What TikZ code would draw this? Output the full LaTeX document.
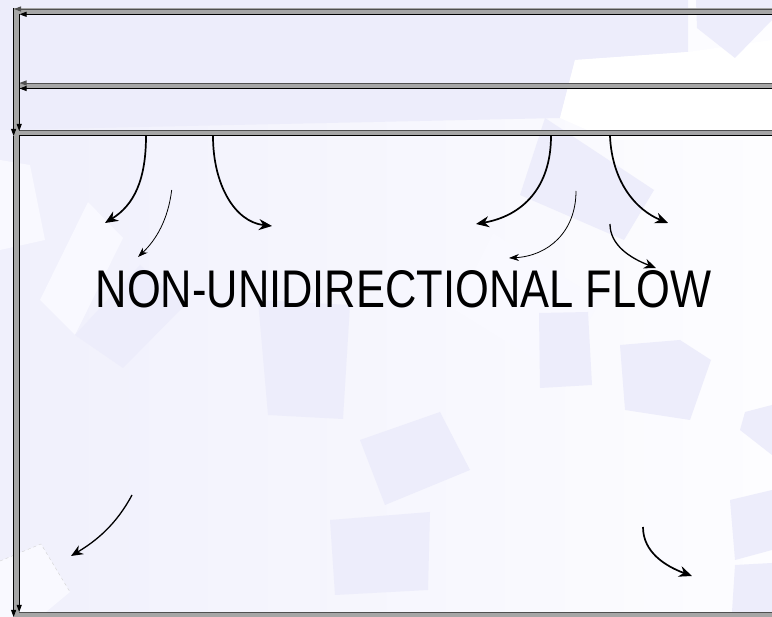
\documentclass[tikz,border=0pt]{standalone}
\usepackage{fontspec}
\setmainfont{Liberation Sans}
\usetikzlibrary{arrows.meta}
\definecolor{bgl}{RGB}{240,240,252}
\definecolor{bgr}{RGB}{253,253,255}
\definecolor{lav}{RGB}{237,237,251}
\definecolor{wht}{RGB}{249,249,255}
\definecolor{barg}{RGB}{166,166,166}
\definecolor{bare}{RGB}{80,80,80}
\tikzset{
  % gray duct bar
  bar/.style={fill=barg, draw=none},
  edge/.style={draw=black, line width=0.9pt, -{Triangle[length=7pt,width=5pt]}},
  edgeg/.style={draw=bare, line width=0.9pt, -{Triangle[length=7pt,width=5pt]}},
  % air flow arrows
  flow/.style={draw=black, line width=1.7pt, -{Stealth[length=13pt,width=11pt]}},
  flowm/.style={draw=black, line width=1.3pt, -{Stealth[length=12pt,width=10pt]}},
  flowt/.style={draw=black, line width=0.8pt, -{Stealth[length=10pt,width=7pt]}},
  patch/.style={fill=lav, draw=none},
  wpatch/.style={fill=wht, draw=none},
  title/.style={font=\fontsize{53}{53}\selectfont, xscale=0.82, inner sep=0pt}
}
\begin{document}
\begin{tikzpicture}[x=1pt, y=-1pt]
  \useasboundingbox (0,0) rectangle (772,617);
  % background
  \shade[left color=bgl, right color=bgr] (0,0) rectangle (772,617);
  \fill[patch] (0,0) -- (688,0) -- (688,52) -- (575,60) -- (560,118) -- (0,130) -- cycle;
  \fill[white] (575,60) -- (688,52) -- (772,40) -- (772,140) -- (610,140) -- (560,118) -- cycle;
  \fill[patch] (696,0) -- (772,0) -- (772,20) -- (735,58) -- (697,28) -- cycle;
  \fill[wpatch] (0,160) -- (30,165) -- (45,240) -- (0,250) -- cycle;
  \fill[wpatch] (88,202) -- (123,238) -- (75,335) -- (40,300) -- cycle;
  \fill[patch] (75,335) -- (123,368) -- (185,305) -- (140,265) -- cycle;
  \fill[patch] (258,300) -- (350,305) -- (343,419) -- (268,415) -- cycle;
  \fill[patch] (545,118) -- (654,190) -- (624,240) -- (520,195) -- cycle;
  \fill[wpatch] (493,233) -- (600,300) -- (560,375) -- (455,310) -- cycle;
  \fill[patch] (539,313) -- (588,312) -- (592,385) -- (540,388) -- cycle;
  \fill[patch] (360,440) -- (440,412) -- (470,470) -- (385,505) -- cycle;
  \fill[patch] (330,520) -- (430,512) -- (428,590) -- (335,595) -- cycle;
  \fill[patch] (620,345) -- (680,340) -- (711,360) -- (690,420) -- (625,410) -- cycle;
  \fill[patch] (745,412) -- (772,405) -- (772,455) -- (740,430) -- cycle;
  \fill[patch] (730,500) -- (772,490) -- (772,550) -- (735,560) -- cycle;
  \fill[patch] (735,565) -- (772,563) -- (772,617) -- (732,612) -- cycle;
  \fill[wpatch] (0,561) -- (41,544) -- (70,592) -- (40,617) -- (0,617) -- cycle;
  \draw[draw=gray!35, dashed, line width=0.4pt] (0,561) -- (41,544) -- (70,592);
  % horizontal bars
  \fill[bar] (14,8.5) rectangle (772,14.5);
  \fill[bar] (14,82.7) rectangle (772,88.7);
  \fill[bar] (14,130) rectangle (772,136);
  \fill[bar] (14,612) rectangle (772,617);
  % vertical bar
  \fill[bar] (13.5,8) rectangle (19.3,617);
  \draw[edgeg] (772,9) -- (14,9);
  \draw[edge] (772,14.3) -- (19.5,14.3);
  \draw[edgeg] (772,83) -- (19.5,83);
  \draw[edge] (772,88.5) -- (19.5,88.5);
  \draw[line width=0.9pt, draw=bare] (19,130.5) -- (772,130.5);
  \draw[line width=0.9pt] (19,135.7) -- (772,135.7);
  \draw[line width=0.6pt, draw=bare] (19,612.3) -- (772,612.3);
  \draw[edge] (13.6,8) -- (13.6,136);
  \draw[edge] (19.2,14) -- (19.2,131);
  \draw[edge] (13.6,136) -- (13.6,617);
  \draw[edge] (19.2,136) -- (19.2,612);
  % flow arrows
  \draw[flow] (146,136) .. controls (146,180) and (134,205) .. (105,223);
  \draw[flowt] (171.7,190) .. controls (168,220) and (156,240) .. (138,257);
  \draw[flow] (213,136) .. controls (213,185) and (235,222) .. (272,226);
  \draw[flow] (551,136) .. controls (551,188) and (522,216) .. (476,224);
  \draw[flowt] (576,191) .. controls (576,232) and (548,256) .. (509,258);
  \draw[flow] (610,136) .. controls (612,182) and (636,210) .. (668,223);
  \draw[flowm] (610,224) .. controls (610,245) and (630,258) .. (656,268);
  \draw[flowm] (132,495) .. controls (116,525) and (96,541) .. (71,556);
  \draw[flow] (643,527) .. controls (643,552) and (665,566) .. (692,576);
  % label
  \node[title, anchor=base] (lbl) at (403.5,308) {NON-UNIDIRECTIONAL FLOW};
\end{tikzpicture}
\end{document}
